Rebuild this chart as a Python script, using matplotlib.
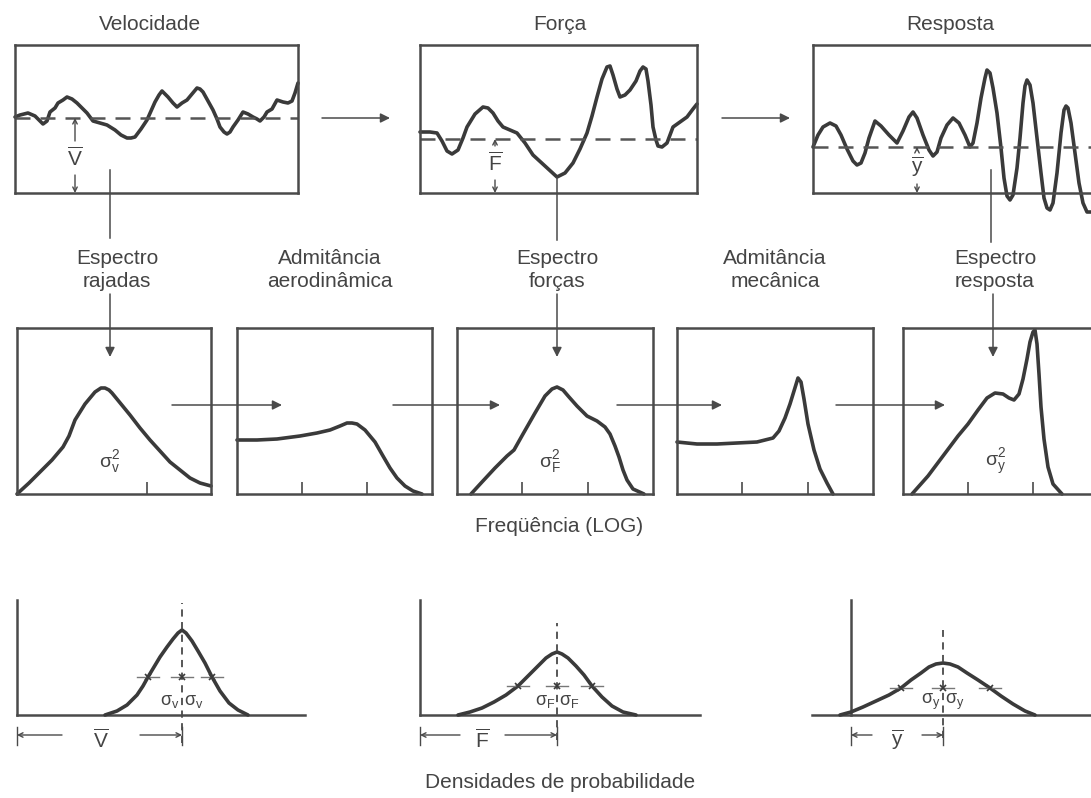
import matplotlib
matplotlib.use('Agg')
import matplotlib.pyplot as plt

plt.rcParams['font.family'] = ['Liberation Sans', 'DejaVu Sans']
plt.rcParams['mathtext.fontset'] = 'custom'
plt.rcParams['mathtext.rm'] = 'Liberation Sans'
plt.rcParams['mathtext.it'] = 'Liberation Sans:italic'
plt.rcParams['mathtext.sf'] = 'Liberation Sans'

# ---------------- data (schematic curves, local panel units) ----------------
# top row: time histories
vel_t = [0, 5, 13, 20, 24, 28, 32, 35, 40, 43, 48, 52, 57, 62, 67, 72, 78, 85, 92, 100,
         106, 112, 116, 120, 126, 132, 136, 140, 144, 147, 150, 153, 158, 162, 167, 172, 177, 182, 185, 188,
         193, 198, 202, 205, 209, 212, 215, 218, 223, 228, 233, 238, 242, 245, 249, 252, 257, 262, 265, 268,
         273, 277, 280, 283]
vel_u = [76, 78, 80, 77, 73, 69, 72, 81, 85, 90, 93, 96, 94, 90, 85, 80, 72, 70, 68, 63,
         58, 55, 55, 56, 64, 73, 82, 91, 98, 102, 99, 96, 90, 86, 90, 93, 99, 105, 104, 101,
         92, 83, 74, 66, 61, 59, 61, 66, 73, 81, 79, 76, 74, 72, 76, 81, 84, 93, 92, 91,
         90, 92, 100, 110]
vel_mean = 75

frc_t = [0, 10, 17, 22, 27, 32, 38, 43, 47, 55, 63, 68, 73, 78, 83, 90, 97, 105, 113, 125,
         137, 145, 153, 160, 167, 172, 177, 182, 187, 190, 193, 197, 200, 205, 210, 216, 220, 223, 226, 228,
         231, 233, 236, 238, 242, 247, 250, 253, 260, 267, 273, 277]
frc_u = [61, 61, 60, 52, 42, 39, 43, 55, 66, 79, 86, 85, 80, 72, 66, 63, 60, 50, 38, 27,
         16, 20, 30, 44, 60, 77, 96, 114, 126, 127, 118, 104, 96, 98, 103, 112, 122, 126, 124, 112,
         88, 66, 53, 47, 46, 50, 58, 66, 71, 76, 84, 89]
frc_mean = 54

rsp_t = [0, 5, 10, 17, 23, 28, 34, 40, 44, 48, 52, 56, 62, 68, 76, 84, 90, 96, 100, 104,
         110, 116, 120, 124, 128, 134, 140, 146, 152, 157, 160, 164, 168, 172, 174, 177, 180, 184, 188, 191,
         194, 197, 200, 204, 207, 210, 212, 214, 217, 220, 224, 228, 231, 234, 237, 240, 244, 248, 251, 253,
         255, 258, 262, 266, 270, 274, 279]
rsp_u = [46, 58, 66, 70, 67, 58, 44, 32, 28, 30, 40, 55, 72, 67, 58, 50, 62, 76, 81, 75,
         58, 43, 37, 41, 55, 68, 75, 70, 58, 46, 50, 70, 95, 115, 123, 120, 105, 80, 45, 15,
         -3, -7, -2, 25, 55, 90, 107, 113, 108, 90, 55, 20, -5, -15, -17, -10, 20, 60, 83, 87,
         85, 70, 40, 10, -10, -19, -19]
rsp_mean = 46

# middle row: spectra / admittances (log frequency)
spv_f = [0, 12, 23, 35, 46, 52, 58, 68, 78, 84, 88, 92, 95, 104, 113, 123, 133, 143, 153, 163, 173, 183, 194]
spv_s = [0, 11, 22, 34, 47, 58, 74, 90, 102, 106, 106, 104, 101, 90, 79, 66, 54, 43, 32, 24, 16, 11, 8]

ada_f = [0, 20, 40, 63, 80, 93, 103, 110, 115, 120, 128, 138, 146, 153, 160, 168, 176, 185]
ada_s = [54, 54, 55, 58, 61, 64, 68, 71, 71, 70, 64, 52, 38, 26, 16, 8, 3, 0]

spf_f = [14, 25, 38, 50, 57, 66, 78, 88, 95, 100, 106, 112, 120, 130, 140, 148, 153, 158, 162, 166, 170, 176, 187]
spf_s = [0, 12, 26, 38, 44, 60, 81, 98, 105, 107, 104, 97, 88, 78, 73, 67, 60, 48, 37, 24, 14, 5, 0]

adm_f = [0, 20, 40, 60, 80, 96, 102, 108, 113, 117, 121, 124, 127, 131, 137, 143, 150, 156]
adm_s = [52, 50, 50, 51, 52, 56, 63, 76, 90, 103, 116, 112, 95, 70, 44, 25, 11, 0]

spy_f = [9, 25, 40, 55, 65, 75, 84, 92, 100, 106, 111, 116, 120, 124, 127, 130, 132, 134, 136, 138, 141, 145, 150, 159]
spy_s = [0, 18, 38, 58, 70, 84, 96, 101, 100, 96, 94, 100, 115, 135, 152, 162, 164, 150, 120, 87, 55, 27, 10, 0]

# bottom row: probability densities
pdv_x = [88, 100, 110, 120, 126, 131, 137, 143, 150, 156, 161, 165, 169, 175, 181, 188, 195, 203, 212, 221, 231]
pdv_p = [0, 4, 10, 20, 29, 38, 48, 58, 68, 76, 82, 85, 82, 74, 64, 52, 38, 24, 12, 5, 0]
pdv_mean, pdv_sig = 165, [131, 165, 195]

pdf_x = [38, 50, 62, 74, 86, 98, 108, 118, 126, 132, 137, 142, 148, 156, 164, 172, 182, 192, 203, 216]
pdf_p = [0, 3, 7, 13, 20, 29, 39, 49, 57, 61, 63, 61, 57, 49, 40, 29, 18, 9, 3, 0]
pdf_mean, pdf_sig = 137, [98, 137, 172]

pdy_x = [-11, 0, 12, 25, 38, 50, 60, 70, 78, 85, 92, 99, 107, 116, 127, 139, 150, 162, 174, 184]
pdy_p = [0, 3, 8, 14, 20, 27, 35, 42, 48, 51, 52, 51, 48, 42, 35, 27, 19, 11, 4, 0]
pdy_mean, pdy_sig = 92, [50, 92, 139]

# ---------------- figure ----------------
W, H = 1091, 798
fig = plt.figure(figsize=(W / 100, H / 100), dpi=100)
fig.patch.set_facecolor('white')

INK = '#3a3a3a'
BOX = '#4a4a4a'
TXT = '#444444'
CLW = 2.6


def px_axes(left, top, right, bottom, xlim, ylim, z=2):
    ax = fig.add_axes([left / W, 1 - bottom / H, (right - left) / W, (bottom - top) / H])
    ax.set_xlim(*xlim)
    ax.set_ylim(*ylim)
    ax.set_zorder(z)
    ax.patch.set_alpha(0)
    return ax


def boxed(ax, ticks=()):
    for s in ax.spines.values():
        s.set_color(BOX)
        s.set_linewidth(1.8)
    ax.set_xticks(list(ticks))
    ax.set_yticks([])
    ax.tick_params(axis='x', direction='in', length=9, width=1.2, color=BOX,
                   labelbottom=False)


# --- top row
top_boxes = [
    (15, 298, vel_t, vel_u, vel_mean, 60, 35, r'$\overline{\mathrm{V}}$'),
    (420, 697, frc_t, frc_u, frc_mean, 75, 30, r'$\overline{\mathrm{F}}$'),
    (813, 1110, rsp_t, rsp_u, rsp_mean, 104, 26, r'$\overline{\mathrm{y}}$'),
]
for left, right, tt, uu, mean, mx, my, lab in top_boxes:
    ax = px_axes(left, 45, right, 193, (0, right - left), (0, 148))
    boxed(ax)
    ax.plot(tt, uu, color=INK, lw=CLW, solid_joinstyle='round', solid_capstyle='round', clip_on=False)
    ax.axhline(mean, color='#555555', lw=1.8, dashes=(6, 4))
    ax.text(mx, my, lab, ha='center', va='center', fontsize=15, color=TXT)
    ax.annotate('', xy=(mx, mean), xytext=(mx, my + 17),
                arrowprops=dict(arrowstyle='->', color=BOX, lw=1.0, shrinkA=0, shrinkB=0,
                                mutation_scale=8))
    ax.annotate('', xy=(mx, 0), xytext=(mx, my - 17),
                arrowprops=dict(arrowstyle='->', color=BOX, lw=1.0, shrinkA=0, shrinkB=0,
                                mutation_scale=8))

# --- middle row
mid_boxes = [
    (17, 211, spv_f, spv_s, [130], r'$\mathrm{σ}_\mathrm{v}^2$'),
    (237, 432, ada_f, ada_s, [65, 130], None),
    (457, 653, spf_f, spf_s, [65, 131], r'$\mathrm{σ}_\mathrm{F}^2$'),
    (677, 873, adm_f, adm_s, [65, 131], None),
    (903, 1098, spy_f, spy_s, [65, 130], r'$\mathrm{σ}_\mathrm{y}^2$'),
]
for left, right, ff, ss, ticks, sig in mid_boxes:
    ax = px_axes(left, 328, right, 494, (0, right - left), (0, 166))
    boxed(ax, ticks)
    ax.plot(ff, ss, color=INK, lw=CLW, solid_joinstyle='round', solid_capstyle='round', clip_on=False)
    if sig:
        ax.text(93, 32, sig, ha='center', va='center', fontsize=14, color=TXT)

# --- bottom row
bot_panels = [
    (17, 0, 320, pdv_x, pdv_p, pdv_mean, pdv_sig, 38, 288, 0, 112, -28, r'$\mathrm{σ}_\mathrm{v}$',
     r'$\overline{\mathrm{V}}$', 45, 123),
    (420, 400, 720, pdf_x, pdf_p, pdf_mean, pdf_sig, 29, 280, 0, 92, -25, r'$\mathrm{σ}_\mathrm{F}$',
     r'$\overline{\mathrm{F}}$', 40, 85),
    (851, 800, 1091, pdy_x, pdy_p, pdy_mean, pdy_sig, 27, 240, -39, 85, -23, r'$\mathrm{σ}_\mathrm{y}$',
     r'$\overline{\mathrm{y}}$', 21, 71),
]
for (ox, l, r, xx, pp, mean, sigs, sy, base_r, base_l, dtop, dbot, slab,
     mlab, arr_l, arr_r) in bot_panels:
    ax = px_axes(l, 595, r, 765, (l - ox, r - ox), (-50, 120))
    ax.axis('off')
    ax.plot([0, 0], [0, 115], color=BOX, lw=1.8)
    ax.plot([base_l, base_r], [0, 0], color=BOX, lw=1.8)
    ax.plot(xx, pp, color=INK, lw=CLW, solid_joinstyle='round', solid_capstyle='round')
    ax.plot([mean, mean], [dbot, dtop], color=BOX, lw=1.3, dashes=(4, 3))
    for sx in sigs:
        ax.plot([sx - 11, sx + 11], [sy, sy], color='#777777', lw=1.0)
        ax.plot([sx], [sy], marker='x', ms=5, mew=1.2, color=INK)
    ax.text(mean - 2, 13, slab, ha='right', va='center', fontsize=13, color=TXT)
    ax.text(mean + 2, 13, slab, ha='left', va='center', fontsize=13, color=TXT)
    # mean bar
    yb = -20
    for tx in (0, mean):
        ax.plot([tx, tx], [yb + 8, yb - 10], color=BOX, lw=1.0)
    ax.annotate('', xy=(0, yb), xytext=(arr_l, yb),
                arrowprops=dict(arrowstyle='->', color=BOX, lw=1.0, shrinkA=0, shrinkB=0, mutation_scale=8))
    ax.annotate('', xy=(mean, yb), xytext=(arr_r, yb),
                arrowprops=dict(arrowstyle='->', color=BOX, lw=1.0, shrinkA=0, shrinkB=0, mutation_scale=8))
    ax.text((arr_l + arr_r) / 2, yb - 5, mlab, ha='center', va='center', fontsize=15, color=TXT)

# --- overlay: titles, connectors, flow arrows (figure pixel frame)
ov = fig.add_axes([0, 0, 1, 1])
ov.set_xlim(0, W)
ov.set_ylim(H, 0)
ov.axis('off')
ov.set_zorder(5)
ov.patch.set_alpha(0)

for x, s in [(150, 'Velocidade'), (560, 'Força'), (950, 'Resposta')]:
    ov.text(x, 24, s, ha='center', va='center', fontsize=15, color=TXT)

for x, s in [(117, 'Espectro\nrajadas'), (330, 'Admitância\naerodinâmica'), (557, 'Espectro\nforças'),
             (775, 'Admitância\nmecânica'), (995, 'Espectro\nresposta')]:
    ov.text(x, 270, s, ha='center', va='center', fontsize=15, color=TXT, linespacing=1.25)

ov.text(559, 527, 'Freqüência (LOG)', ha='center', va='center', fontsize=15, color=TXT)
ov.text(560, 782, 'Densidades de probabilidade', ha='center', va='center', fontsize=15, color=TXT)

aprops = dict(arrowstyle='-|>', color=BOX, lw=1.1, shrinkA=0, shrinkB=0, mutation_scale=14)
for x0, x1, y in [(322, 390, 118), (722, 790, 118),
                  (172, 282, 405), (393, 500, 405), (617, 722, 405), (836, 945, 405)]:
    ov.annotate('', xy=(x1, y), xytext=(x0, y), arrowprops=aprops)

for x, y0, y1 in [(110, 170, 238), (557, 178, 240), (991, 170, 242)]:
    ov.plot([x, x], [y0, y1], color=BOX, lw=1.1)
for x in (110, 557, 993):
    ov.annotate('', xy=(x, 357), xytext=(x, 294), arrowprops=aprops)

fig.savefig('out.png', dpi=100)
